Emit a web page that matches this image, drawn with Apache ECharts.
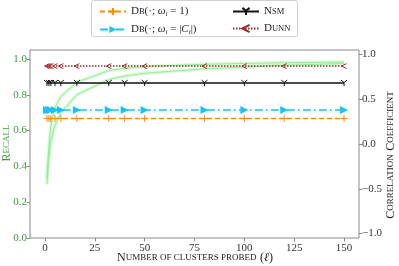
<!DOCTYPE html>
<html><head><meta charset="utf-8">
<script src="https://cdn.jsdelivr.net/npm/echarts@6/dist/echarts.min.js"></script>
<style>html,body{margin:0;padding:0;background:#fff}#c{width:399px;height:266px}</style>
</head><body><div id="c"></div>
<script>
// ---- data ----
const probed = [1, 2, 3, 5, 8, 16, 32, 40, 50, 80, 100, 120, 150];
const recallHigh = [0.33, 0.52, 0.63, 0.73, 0.79, 0.87, 0.935, 0.948, 0.958, 0.97, 0.975, 0.979, 0.983];
const recallLow  = [0.30, 0.45, 0.54, 0.63, 0.70, 0.80, 0.885, 0.905, 0.92, 0.945, 0.955, 0.965, 0.974];
const corrDb1   = [0.285, 0.285, 0.285, 0.285, 0.285, 0.285, 0.285, 0.285, 0.285, 0.285, 0.285, 0.285, 0.285];
const corrDbC   = [0.38, 0.38, 0.38, 0.38, 0.38, 0.38, 0.38, 0.38, 0.38, 0.38, 0.38, 0.38, 0.38];
const corrNsm   = [0.68, 0.68, 0.68, 0.68, 0.68, 0.68, 0.68, 0.68, 0.68, 0.68, 0.68, 0.68, 0.68];
const corrDunn  = [0.87, 0.87, 0.87, 0.87, 0.87, 0.87, 0.87, 0.87, 0.87, 0.87, 0.87, 0.87, 0.87];
const xTicks = [0, 25, 50, 75, 100, 125, 150];
const leftTicks = [0, 0.2, 0.4, 0.6, 0.8, 1.0];
const rightTicks = [-1.0, -0.5, 0, 0.5, 1.0];

const pair = ys => probed.map((x, i) => [x, ys[i]]);
const FONT = '"Liberation Serif","DejaVu Serif",serif';
const GREEN = '#3a9e3a';
const LG = '#90ee90';

const rich = {
  n: {fontFamily: FONT, fontSize: 11, color: '#222'},
  s: {fontFamily: FONT, fontSize: 8.5, color: '#222'},
  i: {fontFamily: FONT, fontSize: 11, fontStyle: 'italic', color: '#222'},
  sub: {fontFamily: FONT, fontSize: 7, fontStyle: 'italic', color: '#222', padding: [6, 0, 0, 0]}
};
const names = {
  db1: '{n|D}{s|B}{n|(·; }{i|ω}{sub|i}{n| = 1)}',
  dbc: '{n|D}{s|B}{n|(·; }{i|ω}{sub|i}{n| = |}{i|C}{sub|i}{n||)}',
  nsm: '{n|N}{s|SM}',
  dunn: '{n|D}{s|UNN}'
};

const chart = echarts.init(document.getElementById('c'), null, {renderer: 'canvas'});
const plusPath = 'path://M5,0 L5,10 M0,5 L10,5';
const triRight = 'path://M0,0 L10,5 L0,10 Z';
const triDown = 'path://M0,0 L5,4 L10,0 M5,4 L5,10';
const lessPath = 'path://M8,0 L2,5 L8,10';

function strokeSeries(name, data, color, type, sym, size) {
  return {
    name, type: 'line', yAxisIndex: 1, data: pair(data), symbol: sym, symbolSize: size,
    showSymbol: true, animation: false, z: 3,
    lineStyle: {color, width: 1.5, type},
    itemStyle: {color: 'rgba(0,0,0,0)', borderColor: color, borderWidth: 1}
  };
}
const tickStyle = {show: true, length: 3.5, inside: false, lineStyle: {color: '#8a8a8a'}};

chart.setOption({
  animation: false,
  grid: {left: 30, right: 40, top: 50, bottom: 28, show: true, borderColor: '#8a8a8a', borderWidth: 1},
  xAxis: {
    type: 'value', min: -7.5, max: 157.5,
    axisLine: {show: false, onZero: false}, splitLine: {show: false},
    axisTick: Object.assign({customValues: xTicks}, tickStyle),
    axisLabel: {customValues: xTicks, fontFamily: FONT, fontSize: 11, color: '#333', margin: 5}
  },
  yAxis: [{
    type: 'value', min: 0, max: 1.05, position: 'left',
    axisLine: {show: false, onZero: false}, splitLine: {show: false},
    axisTick: Object.assign({customValues: leftTicks}, tickStyle),
    axisLabel: {customValues: leftTicks, fontFamily: FONT, fontSize: 11, color: GREEN, margin: 3,
      formatter: v => v.toFixed(1)}
  }, {
    type: 'value', min: -1.05, max: 1.05, position: 'right',
    axisLine: {show: false, onZero: false}, splitLine: {show: false},
    axisTick: Object.assign({customValues: rightTicks}, tickStyle),
    axisLabel: {customValues: rightTicks, fontFamily: FONT, fontSize: 11, color: '#333', margin: 3,
      formatter: v => (v < 0 ? '\u2212' : '') + Math.abs(v).toFixed(1)}
  }],
  legend: [{
    orient: 'vertical', left: 94, top: 1, itemWidth: 26, itemHeight: 9, itemGap: 6,
    data: [names.db1, names.dbc], textStyle: {rich}, formatter: s => s
  }, {
    orient: 'vertical', left: 227, top: 1, itemWidth: 26, itemHeight: 9, itemGap: 6,
    data: [names.nsm, names.dunn], textStyle: {rich}, formatter: s => s
  }],
  graphic: [
    {type: 'rect', left: 91, top: 0, shape: {width: 206, height: 36, r: 2}, z: -1,
      style: {fill: '#fff', stroke: '#d0d0d0', lineWidth: 1}},
    {type: 'text', x: 7, y: 143, rotation: Math.PI / 2, z: 10,
      style: {text: '{b|R}{s|ECALL}', align: 'center', verticalAlign: 'middle',
        rich: {b: {fontFamily: FONT, fontSize: 12, fill: GREEN}, s: {fontFamily: FONT, fontSize: 9, fill: GREEN}}}},
    {type: 'text', x: 391, y: 155, rotation: Math.PI / 2, z: 10,
      style: {text: '{b|C}{s|ORRELATION} {b|C}{s|OEFFICIENT}', align: 'center', verticalAlign: 'middle',
        rich: {b: {fontFamily: FONT, fontSize: 12, fill: '#222'}, s: {fontFamily: FONT, fontSize: 9, fill: '#222'}}}},
    {type: 'text', x: 195, y: 258, z: 10,
      style: {text: '{b|N}{s|UMBER OF CLUSTERS PROBED} {b|(}{i|ℓ}{b|)}', align: 'center', verticalAlign: 'middle',
        rich: {b: {fontFamily: FONT, fontSize: 12, fill: '#222'}, s: {fontFamily: FONT, fontSize: 9, fill: '#222'},
          i: {fontFamily: FONT, fontSize: 12, fontStyle: 'italic', fill: '#222'}}}}
  ],
  series: [
    {type: 'line', yAxisIndex: 0, data: pair(recallHigh), showSymbol: false, z: 1,
      lineStyle: {color: LG, width: 3.5, opacity: 0.3}},
    {type: 'line', yAxisIndex: 0, data: pair(recallLow), showSymbol: false, z: 1,
      lineStyle: {color: LG, width: 3.5, opacity: 0.3}},
    {type: 'line', yAxisIndex: 0, data: pair(recallHigh), showSymbol: false, z: 2,
      lineStyle: {color: LG, width: 1}},
    {type: 'line', yAxisIndex: 0, data: pair(recallLow), showSymbol: false, z: 2,
      lineStyle: {color: LG, width: 1}},
    strokeSeries(names.db1, corrDb1, '#ff8c00', [5, 3], plusPath, 7),
    {name: names.dbc, type: 'line', yAxisIndex: 1, data: pair(corrDbC), symbol: triRight, symbolSize: 8,
      showSymbol: true, z: 3, lineStyle: {color: '#1ec0f5', width: 1.5, type: [8, 3, 2, 3]},
      itemStyle: {color: '#1ec0f5'}},
    strokeSeries(names.nsm, corrNsm, '#111', 'solid', triDown, 6),
    strokeSeries(names.dunn, corrDunn, '#a02828', [1.5, 1.5], lessPath, 5)
  ]
});
</script></body></html>
